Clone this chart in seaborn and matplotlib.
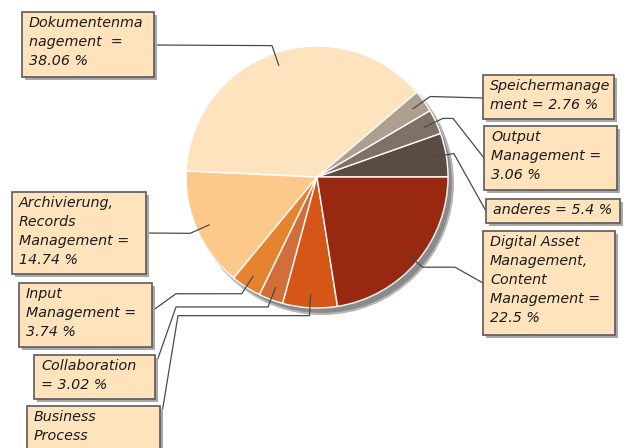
import matplotlib
matplotlib.use("Agg")
import numpy as np
import matplotlib.pyplot as plt
import seaborn as sns
from matplotlib.patches import Rectangle, Circle

# slices, counterclockwise from 3 o'clock
categories = ["anderes", "Output Management", "Speichermanagement", "Dokumentenmanagement",
              "Archivierung, Records Management", "Input Management", "Collaboration",
              "Business Process Management", "Digital Asset Management, Content Management"]
shares = [5.4, 3.06, 2.76, 38.06, 14.74, 3.74, 3.02, 6.72, 22.5]

# label text as wrapped in the boxes
label_fmt = ["anderes = {} %",
             "Output\nManagement =\n{} %",
             "Speichermanage\nment = {} %",
             "Dokumentenma\nnagement  =\n{} %",
             "Archivierung,\nRecords\nManagement =\n{} %",
             "Input\nManagement =\n{} %",
             "Collaboration\n= {} %",
             "Business\nProcess\nManagement =\n{} %",
             "Digital Asset\nManagement,\nContent\nManagement =\n{} %"]

slice_colors = ["#5b4c42", "#7f7165", "#ae9f91", "#fde3be", "#fcc98a",
                "#e6832f", "#d26e3a", "#d55616", "#992811"]

# box layout in pixels: (x, y, w, h), elbow x (None = no elbow), end point on box
boxes = [(486, 199, 134, 24), (484, 126, 133, 64), (483, 75, 131, 44),
         (22, 12, 132, 65), (12, 192, 134, 82), (19, 283, 133, 64),
         (34, 355, 121, 44), (27, 406, 133, 90), (483, 231, 132, 104)]
elbows = [None, 453, None, None, None, 176, 176, 178, 455]
ends = [(486, 211), (484, 158), (483, 98), (154, 45), (146, 233),
        (152, 311), (156, 364), (160, 425), (483, 283)]

W, H = 629, 448
cx, cy, R = 317, 177, 131

sns.set_theme(style="white")
plt.rcParams["font.family"] = ["DejaVu Sans"]
colors = sns.color_palette(slice_colors)

fig = plt.figure(figsize=(W / 100, H / 100), dpi=100)
ax = fig.add_axes([0, 0, 1, 1])

# pie shadow
ax.add_patch(Circle((cx + 5, cy + 6), R, facecolor="#8a8a8a", edgecolor="#b5b5b5", lw=1.5, zorder=0))

wedges, _ = ax.pie(shares, colors=colors, startangle=0, counterclock=False,
                   center=(cx, cy), radius=R,
                   wedgeprops=dict(edgecolor="white", linewidth=1.0))
for w in wedges:
    w.set_zorder(1)

ax.set_xlim(0, W)
ax.set_ylim(H, 0)
ax.set_aspect("auto")
ax.axis("off")

for i, w in enumerate(wedges):
    mid = np.deg2rad((w.theta1 + w.theta2) / 2)
    dx, dy = np.cos(mid), np.sin(mid)
    p0 = (cx + 0.9 * R * dx, cy + 0.9 * R * dy)
    p1 = (cx + 1.06 * R * dx, cy + 1.06 * R * dy)
    xs, ys = [p0[0], p1[0]], [p0[1], p1[1]]
    if elbows[i] is not None:
        xs.append(elbows[i])
        ys.append(p1[1])
    xs.append(ends[i][0])
    ys.append(ends[i][1])
    ax.plot(xs, ys, color="#4a4a4a", lw=0.9, zorder=3)

    bx, by, bw, bh = boxes[i]
    ax.add_patch(Rectangle((bx + 3, by + 3), bw, bh, facecolor="#a8a8a8",
                           edgecolor="none", zorder=4))
    ax.add_patch(Rectangle((bx, by), bw, bh, facecolor="#ffe3bd",
                           edgecolor="#5a5a5a", lw=1.2, zorder=5))
    ax.text(bx + 7, by + 4, label_fmt[i].format(f"{shares[i]:g}"),
            ha="left", va="top", fontsize=10.3, style="italic",
            color="#1c1c1c", linespacing=1.45, zorder=6)

fig.savefig("out.png", dpi=100)
